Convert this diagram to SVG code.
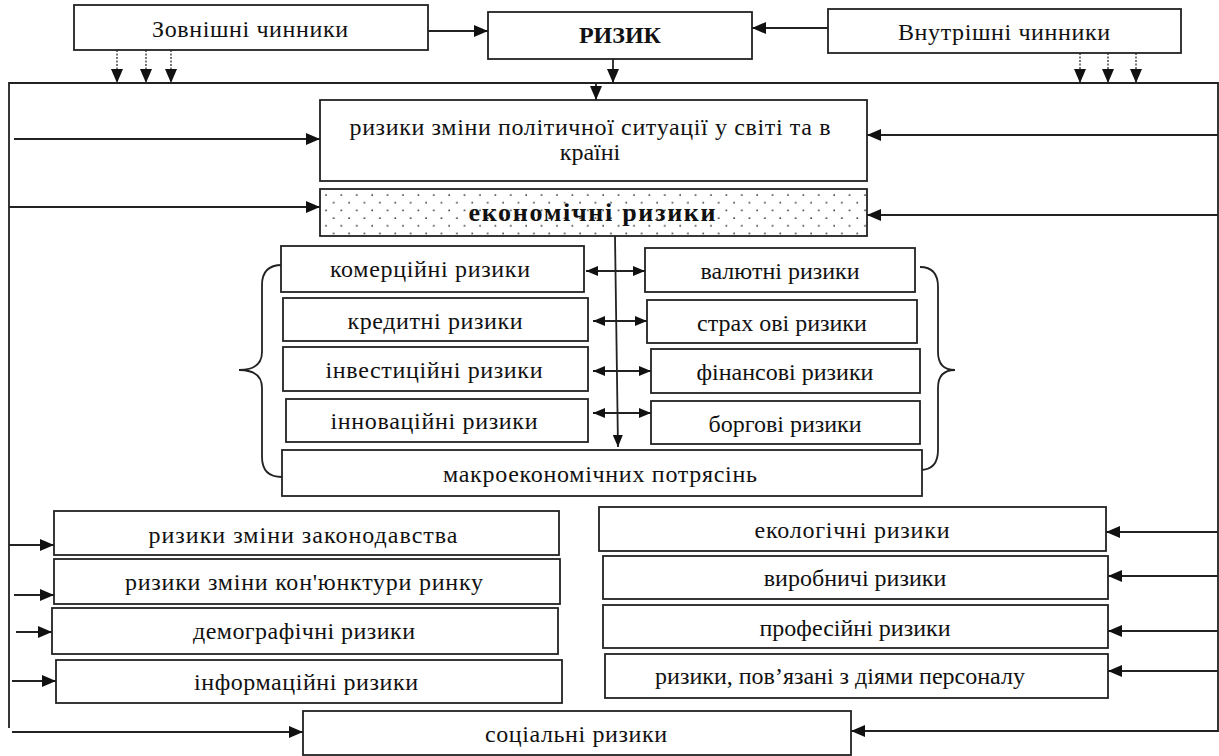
<svg xmlns="http://www.w3.org/2000/svg" width="1219" height="756" viewBox="0 0 1219 756">
<style>
.box{fill:#fff;stroke:#222;stroke-width:1.8}
.t{font-family:"Liberation Serif","Times New Roman",serif;font-size:24px;fill:#111;text-anchor:middle}
.b{font-weight:bold}
.ln{fill:none;stroke:#222;stroke-width:1.8}
.dot{fill:none;stroke:#555;stroke-width:1.6;stroke-dasharray:2 1.5}
</style>
<defs>
<marker id="ah" markerUnits="userSpaceOnUse" markerWidth="14" markerHeight="12" refX="14" refY="6" orient="auto-start-reverse" viewBox="0 0 14 12"><path d="M0,0 L14,6 L0,12 z" fill="#111"/></marker>
<marker id="ahs" markerUnits="userSpaceOnUse" markerWidth="12" markerHeight="10" refX="12" refY="5" orient="auto-start-reverse" viewBox="0 0 12 10"><path d="M0,0 L12,5 L0,10 z" fill="#111"/></marker>
<pattern id="dots" patternUnits="userSpaceOnUse" width="15.4" height="15.4" x="322" y="191"><circle cx="4" cy="4" r="0.9" fill="#333"/><circle cx="11.7" cy="11.7" r="0.9" fill="#333"/></pattern>
</defs>

<g id="connectors">
<line class="ln" x1="428" y1="31" x2="488" y2="31" marker-end="url(#ah)"/>
<line class="ln" x1="828" y1="28" x2="752" y2="28" marker-end="url(#ah)"/>
<line class="ln" x1="613" y1="59" x2="613" y2="83" marker-end="url(#ah)"/>
<line class="dot" x1="117" y1="50" x2="117" y2="83" marker-end="url(#ah)"/>
<line class="dot" x1="146" y1="50" x2="146" y2="83" marker-end="url(#ah)"/>
<line class="dot" x1="171" y1="50" x2="171" y2="83" marker-end="url(#ah)"/>
<line class="dot" x1="1080" y1="53" x2="1080" y2="83" marker-end="url(#ah)"/>
<line class="dot" x1="1108" y1="53" x2="1108" y2="83" marker-end="url(#ah)"/>
<line class="dot" x1="1136" y1="53" x2="1136" y2="83" marker-end="url(#ah)"/>
<polyline class="ln" points="9,728 9,83 1218,83 1218,732"/>
<line class="ln" x1="596" y1="83" x2="596" y2="100" marker-end="url(#ah)"/>
<line class="ln" x1="14" y1="139" x2="320" y2="139" marker-end="url(#ah)"/>
<line class="ln" x1="9" y1="207" x2="320" y2="207" marker-end="url(#ah)"/>
<line class="ln" x1="1218" y1="135" x2="867" y2="135" marker-end="url(#ah)"/>
<line class="ln" x1="1218" y1="215" x2="867" y2="215" marker-end="url(#ah)"/>
<line class="ln" x1="615" y1="236" x2="618" y2="447" marker-end="url(#ahs)"/>
<line class="ln" x1="586" y1="271" x2="645" y2="271" marker-start="url(#ahs)" marker-end="url(#ahs)"/>
<line class="ln" x1="593" y1="321" x2="647" y2="321" marker-start="url(#ahs)" marker-end="url(#ahs)"/>
<line class="ln" x1="593" y1="371" x2="651" y2="371" marker-start="url(#ahs)" marker-end="url(#ahs)"/>
<line class="ln" x1="593" y1="413" x2="651" y2="413" marker-start="url(#ahs)" marker-end="url(#ahs)"/>
<path class="ln" d="M282,265 Q262,265 262,285 L262,352 Q262,370 239,370 Q262,370 262,388 L262,457 Q262,477 282,477"/>
<path class="ln" d="M920,267 Q938,267 938,287 L938,352 Q938,370 955,370 Q938,370 938,388 L938,450 Q938,470 920,470"/>
<line class="ln" x1="9" y1="545" x2="54" y2="545" marker-end="url(#ah)"/>
<line class="ln" x1="14" y1="595" x2="54" y2="595" marker-end="url(#ah)"/>
<line class="ln" x1="16" y1="632" x2="52" y2="632" marker-end="url(#ah)"/>
<line class="ln" x1="12" y1="681" x2="56" y2="681" marker-end="url(#ah)"/>
<line class="ln" x1="12" y1="732" x2="303" y2="732" marker-end="url(#ah)"/>
<line class="ln" x1="1218" y1="532" x2="1106" y2="532" marker-end="url(#ah)"/>
<line class="ln" x1="1218" y1="576" x2="1108" y2="576" marker-end="url(#ah)"/>
<line class="ln" x1="1218" y1="631" x2="1108" y2="631" marker-end="url(#ah)"/>
<line class="ln" x1="1218" y1="671" x2="1108" y2="671" marker-end="url(#ah)"/>
<line class="ln" x1="1218" y1="731" x2="851" y2="731" marker-end="url(#ah)"/>
</g>

<g id="n-zovn"><rect class="box" x="74" y="5" width="354" height="45"/><text class="t" x="250" y="37" textLength="196" lengthAdjust="spacing">Зовнішні чинники</text></g>
<g id="n-ryzyk"><rect class="box" x="488" y="12" width="264" height="47"/><text class="t b" x="620" y="43">РИЗИК</text></g>
<g id="n-vnutr"><rect class="box" x="828" y="9" width="353" height="44"/><text class="t" x="1004" y="40" textLength="212" lengthAdjust="spacing">Внутрішні чинники</text></g>
<g id="n-polit"><rect class="box" x="320" y="100" width="547" height="81"/><text class="t" x="590" y="135" textLength="481" lengthAdjust="spacing">ризики зміни політичної ситуації у світі та в</text><text class="t" x="590" y="160">країні</text></g>
<g id="n-econ"><rect class="box" x="320" y="189" width="547" height="47" style="fill:url(#dots)"/><text class="t b" x="592" y="221" style="font-size:26px" textLength="247" lengthAdjust="spacing">економічні ризики</text></g>
<g id="n-komer"><rect class="box" x="281" y="246" width="303" height="46"/><text class="t" x="430" y="277" textLength="200" lengthAdjust="spacing">комерційні ризики</text></g>
<g id="n-kred"><rect class="box" x="283" y="298" width="305" height="43"/><text class="t" x="435" y="329" textLength="175" lengthAdjust="spacing">кредитні ризики</text></g>
<g id="n-invest"><rect class="box" x="283" y="347" width="305" height="44"/><text class="t" x="434" y="378" textLength="217" lengthAdjust="spacing">інвестиційні ризики</text></g>
<g id="n-innov"><rect class="box" x="286" y="399" width="302" height="43"/><text class="t" x="434" y="429" textLength="207" lengthAdjust="spacing">інноваційні ризики</text></g>
<g id="n-valut"><rect class="box" x="645" y="248" width="270" height="44"/><text class="t" x="780" y="279">валютні ризики</text></g>
<g id="n-strakh"><rect class="box" x="647" y="300" width="270" height="43"/><text class="t" x="782" y="331">страх ові ризики</text></g>
<g id="n-fin"><rect class="box" x="651" y="349" width="269" height="44"/><text class="t" x="785" y="380">фінансові ризики</text></g>
<g id="n-borg"><rect class="box" x="651" y="401" width="269" height="43"/><text class="t" x="785" y="432">боргові ризики</text></g>
<g id="n-macro"><rect class="box" x="282" y="450" width="640" height="46"/><text class="t" x="600" y="482" textLength="314" lengthAdjust="spacing">макроекономічних потрясінь</text></g>
<g id="n-zakon"><rect class="box" x="54" y="511" width="505" height="44"/><text class="t" x="303" y="543" textLength="309" lengthAdjust="spacing">ризики зміни законодавства</text></g>
<g id="n-konj"><rect class="box" x="54" y="559" width="506" height="45"/><text class="t" x="304" y="590" textLength="358" lengthAdjust="spacing">ризики зміни кон'юнктури ринку</text></g>
<g id="n-demo"><rect class="box" x="52" y="608" width="506" height="46"/><text class="t" x="304" y="639" textLength="222" lengthAdjust="spacing">демографічні ризики</text></g>
<g id="n-inform"><rect class="box" x="56" y="660" width="506" height="43"/><text class="t" x="306" y="690" textLength="224" lengthAdjust="spacing">інформаційні ризики</text></g>
<g id="n-ekol"><rect class="box" x="599" y="507" width="507" height="44"/><text class="t" x="852" y="538" textLength="195" lengthAdjust="spacing">екологічні ризики</text></g>
<g id="n-vyrob"><rect class="box" x="603" y="556" width="505" height="43"/><text class="t" x="855" y="586">виробничі ризики</text></g>
<g id="n-prof"><rect class="box" x="603" y="605" width="505" height="43"/><text class="t" x="855" y="636">професійні ризики</text></g>
<g id="n-pers"><rect class="box" x="605" y="654" width="503" height="44"/><text class="t" x="840" y="684">ризики, пов’язані з діями персоналу</text></g>
<g id="n-social"><rect class="box" x="303" y="711" width="548" height="44"/><text class="t" x="576" y="742" textLength="182" lengthAdjust="spacing">соціальні ризики</text></g>
</svg>
